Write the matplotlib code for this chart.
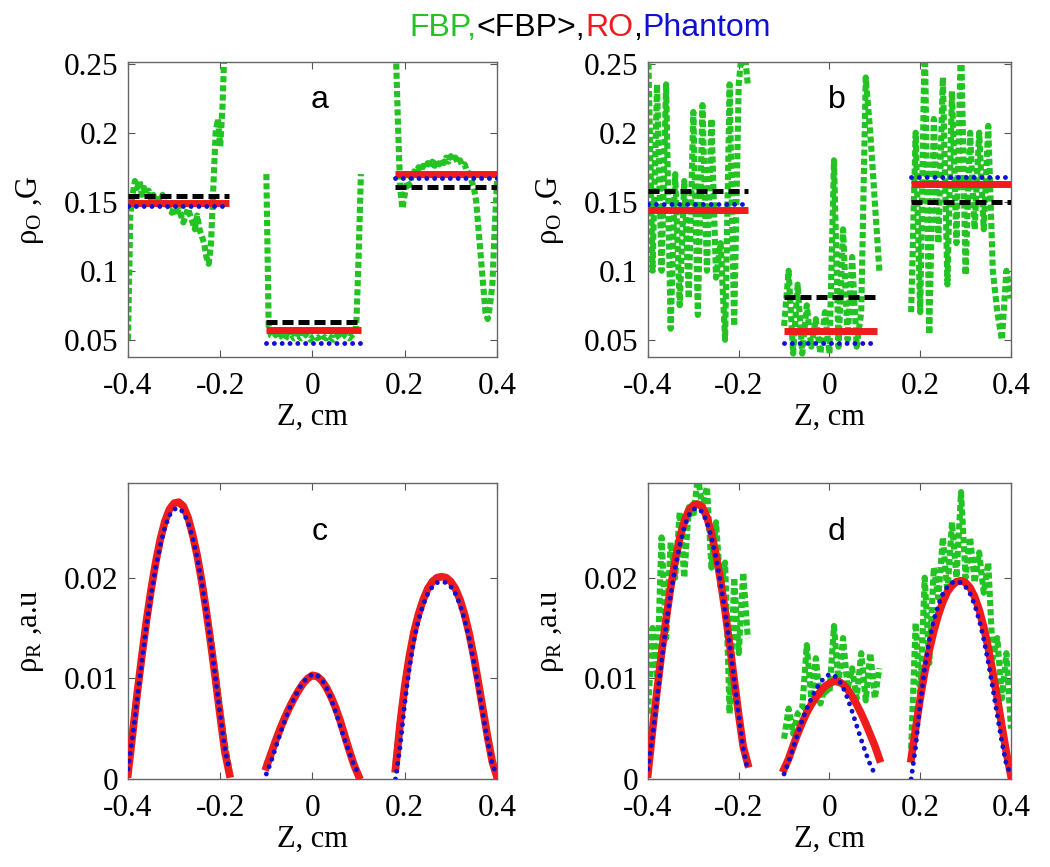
import numpy as np
import matplotlib
matplotlib.use('Agg')
import matplotlib.pyplot as plt

plt.rcParams['font.family'] = 'Liberation Serif'
plt.rcParams['mathtext.fontset'] = 'custom'
plt.rcParams['mathtext.rm'] = 'Liberation Serif'
plt.rcParams['mathtext.it'] = 'Liberation Serif:italic'
plt.rcParams['axes.unicode_minus'] = False

# ---- data ----
x_ticks = [-0.4, -0.2, 0, 0.2, 0.4]
x_tick_labels = ['-0.4', '-0.2', '0', '0.2', '0.4']
top_y_ticks = [0.05, 0.1, 0.15, 0.2, 0.25]
top_y_tick_labels = ['0.05', '0.1', '0.15', '0.2', '0.25']
bot_y_ticks = [0, 0.01, 0.02]
bot_y_tick_labels = ['0', '0.01', '0.02']

# the three slabs along Z
seg_bounds = [(-0.40, -0.18), (-0.10, 0.105), (0.18, 0.40)]

# top row: constant levels per slab
phantom_a = [0.147, 0.048, 0.167]
ro_a = [0.149, 0.057, 0.170]
fbp_mean_a = [0.154, 0.063, 0.161]
phantom_b = [0.148, 0.048, 0.168]
ro_b = [0.144, 0.056, 0.163]
fbp_mean_b = [0.158, 0.081, 0.150]

# FBP, panel a (step 0.005 cm)
fbp_a_x = [np.arange(-0.400, -0.1799, 0.005),
           np.arange(-0.100, 0.1051, 0.005),
           np.arange(0.180, 0.4001, 0.005)]
fbp_a = [
    [0.050, 0.140, 0.155, 0.165, 0.160, 0.165, 0.155, 0.160, 0.155, 0.158,
     0.152, 0.155, 0.150, 0.152, 0.150, 0.155, 0.148, 0.150, 0.145, 0.142,
     0.146, 0.140, 0.145, 0.140, 0.135, 0.140, 0.145, 0.140, 0.135, 0.130,
     0.140, 0.130, 0.125, 0.120, 0.110, 0.105, 0.120, 0.160, 0.200, 0.210,
     0.190, 0.220, 0.270, 0.300, 0.320],
    [0.170, 0.060, 0.053, 0.052, 0.054, 0.051, 0.053, 0.052, 0.050, 0.053,
     0.052, 0.054, 0.051, 0.052, 0.053, 0.051, 0.052, 0.054, 0.052, 0.050,
     0.052, 0.053, 0.051, 0.052, 0.054, 0.052, 0.051, 0.053, 0.052, 0.050,
     0.052, 0.053, 0.051, 0.052, 0.054, 0.052, 0.051, 0.053, 0.055, 0.060,
     0.110, 0.170],
    [0.270, 0.210, 0.160, 0.145, 0.155, 0.165, 0.162, 0.168, 0.172, 0.170,
     0.175, 0.172, 0.176, 0.174, 0.178, 0.175, 0.179, 0.176, 0.180, 0.177,
     0.181, 0.178, 0.182, 0.179, 0.183, 0.180, 0.182, 0.178, 0.180, 0.176,
     0.177, 0.172, 0.170, 0.165, 0.160, 0.150, 0.130, 0.110, 0.090, 0.070,
     0.065, 0.075, 0.090, 0.130, 0.165],
]

# FBP, panels b and d (step 0.01 cm)
noisy_x = [np.arange(-0.40, -0.1799, 0.01),
           np.arange(-0.10, 0.1101, 0.01),
           np.arange(0.18, 0.4001, 0.01)]
fbp_b = [
    [0.270, 0.100, 0.235, 0.100, 0.235, 0.058, 0.170, 0.075, 0.165, 0.080,
     0.215, 0.068, 0.220, 0.100, 0.210, 0.095, 0.120, 0.050, 0.235, 0.060,
     0.235, 0.270, 0.235],
    [0.060, 0.100, 0.040, 0.090, 0.040, 0.075, 0.045, 0.065, 0.040, 0.070,
     0.040, 0.180, 0.045, 0.130, 0.050, 0.110, 0.045, 0.070, 0.240, 0.200,
     0.150, 0.100],
    [0.070, 0.200, 0.070, 0.270, 0.054, 0.210, 0.120, 0.240, 0.090, 0.230,
     0.120, 0.270, 0.097, 0.200, 0.130, 0.200, 0.130, 0.205, 0.100, 0.070,
     0.050, 0.100, 0.080],
]
fbp_d = [
    [0.0065, 0.0150, 0.0100, 0.0240, 0.0140, 0.0235, 0.0200, 0.0265, 0.0200, 0.0270,
     0.0260, 0.0300, 0.0270, 0.0290, 0.0210, 0.0255, 0.0190, 0.0215, 0.0065, 0.0200,
     0.0125, 0.0205, 0.0140],
    [0.0040, 0.0070, 0.0045, 0.0065, 0.0070, 0.0133, 0.0080, 0.0120, 0.0075, 0.0090,
     0.0085, 0.0152, 0.0095, 0.0140, 0.0090, 0.0110, 0.0080, 0.0125, 0.0078, 0.0125,
     0.0080, 0.0110],
    [0.0030, 0.0155, 0.0080, 0.0200, 0.0115, 0.0210, 0.0180, 0.0240, 0.0185, 0.0255,
     0.0200, 0.0285, 0.0200, 0.0240, 0.0195, 0.0225, 0.0185, 0.0215, 0.0120, 0.0140,
     0.0080, 0.0125, 0.0050],
]

# bottom row: smooth profiles sampled every 0.01 cm
hump_x = [np.arange(-0.40, -0.1799, 0.01),
          np.arange(-0.10, 0.1001, 0.01),
          np.arange(0.18, 0.4001, 0.01)]
hump_x_ro_d = [hump_x[0], np.arange(-0.10, 0.1101, 0.01), hump_x[2]]

phantom_rho = [
    [0.0010, 0.0042, 0.0080, 0.0117, 0.0152, 0.0183, 0.0210, 0.0232, 0.0250, 0.0262,
     0.0268, 0.0269, 0.0265, 0.0255, 0.0240, 0.0220, 0.0195, 0.0166, 0.0134, 0.0099,
     0.0063, 0.0030, 0.0008],
    [0.0005, 0.0017, 0.0031, 0.0045, 0.0058, 0.0070, 0.0080, 0.0089, 0.0096, 0.0101,
     0.0104, 0.0103, 0.0099, 0.0091, 0.0080, 0.0067, 0.0053, 0.0039, 0.0026, 0.0014,
     0.0005],
    [0.0000, 0.0032, 0.0075, 0.0110, 0.0138, 0.0158, 0.0173, 0.0184, 0.0191, 0.0195,
     0.0196, 0.0195, 0.0191, 0.0184, 0.0173, 0.0158, 0.0139, 0.0116, 0.0090, 0.0063,
     0.0037, 0.0014, 0.0004],
]
ro_c = [
    [0.0005, 0.0045, 0.0085, 0.0122, 0.0157, 0.0188, 0.0215, 0.0238, 0.0256, 0.0268,
     0.0274, 0.0275, 0.0271, 0.0260, 0.0243, 0.0222, 0.0196, 0.0166, 0.0133, 0.0098,
     0.0062, 0.0027, 0.0005],
    [0.0012, 0.0025, 0.0038, 0.0050, 0.0061, 0.0071, 0.0080, 0.0088, 0.0095, 0.0100,
     0.0103, 0.0102, 0.0098, 0.0091, 0.0082, 0.0071, 0.0058, 0.0043, 0.0028, 0.0014,
     0.0003],
    [0.0010, 0.0055, 0.0092, 0.0122, 0.0146, 0.0164, 0.0178, 0.0189, 0.0196, 0.0200,
     0.0201, 0.0200, 0.0196, 0.0189, 0.0178, 0.0163, 0.0144, 0.0121, 0.0095, 0.0068,
     0.0041, 0.0017, 0.0002],
]
fbp_c = [
    [0.0008, 0.0047, 0.0086, 0.0121, 0.0155, 0.0186, 0.0214, 0.0237, 0.0255, 0.0267,
     0.0273, 0.0274, 0.0270, 0.0259, 0.0243, 0.0223, 0.0198, 0.0169, 0.0138, 0.0105,
     0.0068, 0.0035, 0.0008],
    [0.0014, 0.0026, 0.0039, 0.0051, 0.0062, 0.0072, 0.0081, 0.0089, 0.0095, 0.0100,
     0.0102, 0.0101, 0.0097, 0.0090, 0.0081, 0.0070, 0.0057, 0.0043, 0.0029, 0.0015,
     0.0004],
    [0.0015, 0.0058, 0.0094, 0.0123, 0.0147, 0.0165, 0.0179, 0.0190, 0.0197, 0.0200,
     0.0200, 0.0199, 0.0195, 0.0188, 0.0178, 0.0163, 0.0145, 0.0122, 0.0096, 0.0069,
     0.0042, 0.0018, 0.0003],
]
ro_d = [
    [0.0005, 0.0048, 0.0088, 0.0125, 0.0159, 0.0190, 0.0217, 0.0239, 0.0256, 0.0267,
     0.0272, 0.0273, 0.0270, 0.0260, 0.0244, 0.0223, 0.0197, 0.0167, 0.0134, 0.0099,
     0.0064, 0.0032, 0.0015],
    [0.0010, 0.0020, 0.0033, 0.0045, 0.0056, 0.0066, 0.0074, 0.0081, 0.0087, 0.0092,
     0.0095, 0.0097, 0.0097, 0.0094, 0.0089, 0.0082, 0.0074, 0.0065, 0.0055, 0.0044,
     0.0033, 0.0020],
    [0.0020, 0.0050, 0.0080, 0.0106, 0.0128, 0.0147, 0.0163, 0.0176, 0.0186, 0.0192,
     0.0196, 0.0197, 0.0195, 0.0190, 0.0181, 0.0168, 0.0151, 0.0130, 0.0106, 0.0080,
     0.0053, 0.0026, 0.0003],
]

# ---- styles ----
GREEN = '#22c322'
RED = '#ee1c1c'
BLUE = '#1010d0'
green_kw = dict(color=GREEN, lw=4.4, dashes=(1, 0.5), dash_capstyle='butt')
blue_kw = dict(color=BLUE, lw=3.5, dashes=(0.01, 1.6), dash_capstyle='round', zorder=5)


def plot_curves(ax, xs, ys, **kw):
    for x, y in zip(xs, ys):
        ax.plot(x, y, **kw)


def plot_levels(ax, levels, **kw):
    for (x0, x1), v in zip(seg_bounds, levels):
        ax.plot([x0, x1], [v, v], **kw)


def style_axes(ax, yticks, ylabels, ylabel, letter, letter_y):
    ax.set_xlim(-0.4, 0.4)
    ax.set_xticks(x_ticks)
    ax.set_xticklabels(x_tick_labels)
    ax.set_yticks(yticks)
    ax.set_yticklabels(ylabels)
    ax.tick_params(direction='in', top=True, right=True, length=5, width=0.8,
                   color='#555555', labelsize=22.5)
    ax.tick_params(axis='x', pad=11)
    ax.tick_params(axis='y', pad=7)
    for s in ax.spines.values():
        s.set_color('#666666')
        s.set_linewidth(1.0)
    ax.set_xlabel('Z, cm', fontsize=22, labelpad=1)
    ax.set_ylabel(ylabel, fontsize=22, labelpad=13)
    ax.text(0.52, letter_y, letter, transform=ax.transAxes, ha='center', va='baseline',
            fontsize=23, family='Liberation Sans')


fig = plt.figure(figsize=(10.5, 8.67), dpi=100)
ax_a = fig.add_axes([0.1219, 0.5882, 0.3514, 0.3403])
ax_b = fig.add_axes([0.6171, 0.5882, 0.3457, 0.3403])
ax_c = fig.add_axes([0.1219, 0.1015, 0.3514, 0.3414])
ax_d = fig.add_axes([0.6171, 0.1015, 0.3457, 0.3414])

# top row: rho_O
for ax, fx, fbp, mean, ro, ph, letter in [
        (ax_a, fbp_a_x, fbp_a, fbp_mean_a, ro_a, phantom_a, 'a'),
        (ax_b, noisy_x, fbp_b, fbp_mean_b, ro_b, phantom_b, 'b')]:
    plot_curves(ax, fx, fbp, **green_kw)
    plot_levels(ax, mean, color='black', lw=3.6, dashes=(2.2, 1.0), zorder=3)
    plot_levels(ax, ro, color=RED, lw=5, solid_capstyle='butt', zorder=4)
    plot_levels(ax, ph, **blue_kw)
    ax.set_ylim(0.0375, 0.2512)
    style_axes(ax, top_y_ticks, top_y_tick_labels, 'ρ$_{\\mathrm{O}}$ ,G', letter, 0.845)

# bottom row: rho_R
plot_curves(ax_c, hump_x, fbp_c, **green_kw)
plot_curves(ax_c, hump_x, ro_c, color=RED, lw=5.5, zorder=4)
plot_curves(ax_c, hump_x, phantom_rho, **blue_kw)

plot_curves(ax_d, noisy_x, fbp_d, **green_kw)
plot_curves(ax_d, hump_x_ro_d, ro_d, color=RED, lw=5.5, zorder=4)
plot_curves(ax_d, hump_x, phantom_rho, **blue_kw)

for ax, letter in [(ax_c, 'c'), (ax_d, 'd')]:
    ax.set_ylim(0, 0.0294)
    style_axes(ax, bot_y_ticks, bot_y_tick_labels, 'ρ$_{\\mathrm{R}}$ ,a.u', letter, 0.807)

# multi-coloured title
title_parts = [('FBP,', GREEN), ('<FBP>,', 'black'), ('RO', RED), (',', 'black'), ('Phantom', BLUE)]
fig.canvas.draw()
r = fig.canvas.get_renderer()
texts = [fig.text(0, 0.958, s, color=c, fontsize=23, family='Liberation Sans') for s, c in title_parts]
widths = [t.get_window_extent(r).width for t in texts]
x = 590 - sum(widths) / 2
for t, w in zip(texts, widths):
    t.set_x(x / fig.bbox.width)
    x += w

fig.savefig('out.png', dpi=100)
